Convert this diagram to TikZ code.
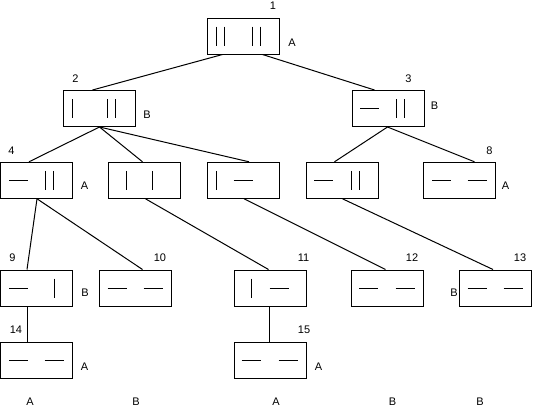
\documentclass[tikz,border=0pt]{standalone}
\usepackage{fontspec}
\setmainfont{Liberation Sans}
\usetikzlibrary{calc}
\definecolor{Ink}{HTML}{000000}
\tikzset{
  cell/.style={draw=Ink,line width=1pt,minimum width=72pt,minimum height=36pt,inner sep=0pt},
  link/.style={draw=Ink,line width=1pt},
  tag/.style={font=\fontsize{11}{13}\selectfont,text=Ink,inner sep=0pt},
  vmark/.pic={\draw[link] (0,-9.5) -- (0,9.5);},
  dmark/.pic={\draw[link] (-4,-9.5) -- (-4,9.5) (4,-9.5) -- (4,9.5);},
  hmark/.pic={\draw[link] (-9.5,0) -- (9.5,0);}
}

\begin{document}
\begin{tikzpicture}[x=1pt,y=-1pt]
  \useasboundingbox (0,0) rectangle (533,410);
  % boxes
  \foreach \n/\x/\y in {b1/243/36, b2/99/108.5, b3/388/108.5,
      b4/36.5/180.3, b5/144/180.3, b6/243.5/180.3, b7/342/180.3, b8/459/180.3,
      b9/36.5/288, b10/135/288, b11/270/288, b12/387/288, b13/495.5/288,
      b14/36.5/360, b15/270/360}
    \node[cell] (\n) at (\x,\y) {};
  % marks inside the boxes
  \foreach \n/\o in {b1/13.5, b1/50, b2/49, b3/48.5, b4/49, b7/49.5}
    \pic at ($(\n.west)+(\o,0)$) {dmark};
  \foreach \n/\o in {b2/10, b5/19, b5/45, b6/9, b9/54, b11/18}
    \pic at ($(\n.west)+(\o,0)$) {vmark};
  \foreach \n/\o in {b3/18, b4/18.5, b6/36, b7/18, b8/19, b8/54.5, b9/18.5,
      b10/18.5, b10/54.5, b11/45.5, b12/18, b12/54.5, b13/18, b13/54,
      b14/18.5, b14/54, b15/17.7, b15/54.5}
    \pic at ($(\n.west)+(\o,0)$) {hmark};
  % connectors
  \foreach \a/\p/\b/\q in {b1/16/b2/30, b1/56/b3/23, b2/37/b4/29, b2/37/b5/35,
      b2/37/b6/42, b3/36/b7/29, b3/36/b8/52, b4/37/b9/27, b4/37/b10/44,
      b5/38/b11/35, b6/37/b12/35, b7/37/b13/34, b9/27/b14/27, b11/36/b15/36}
    \draw[link] ($(\a.south west)+(\p,0)$) -- ($(\b.north west)+(\q,0)$);
  % numbers
  \foreach \i/\x/\y in {1/273/6, 2/75.5/78.5, 3/408.5/78.5, 4/11.5/150.5,
      8/489.5/150.5, 9/12.5/258, 10/160/258, 11/303.5/258, 12/412/258,
      13/520/258, 14/16/330, 15/304/330}
    \node[tag] (n\i) at (\x,\y) {\i};
  % players
  \foreach \i/\t/\x/\y in {1/A/292/42.5, 2/B/147/114.5, 3/B/434.5/105.5,
      4/A/84.5/185.5, 8/A/505.5/185.5, 9/B/85/293, 13/B/454/293,
      14/A/84.5/366.5, 15/A/318.5/366.5}
    \node[tag] (p\i) at (\x,\y) {\t};
  % results
  \foreach \i/\t/\x in {1/A/30, 2/B/136, 3/A/276, 4/B/392.5, 5/B/480}
    \node[tag] (r\i) at (\x,401.5) {\t};
\end{tikzpicture}
\end{document}
